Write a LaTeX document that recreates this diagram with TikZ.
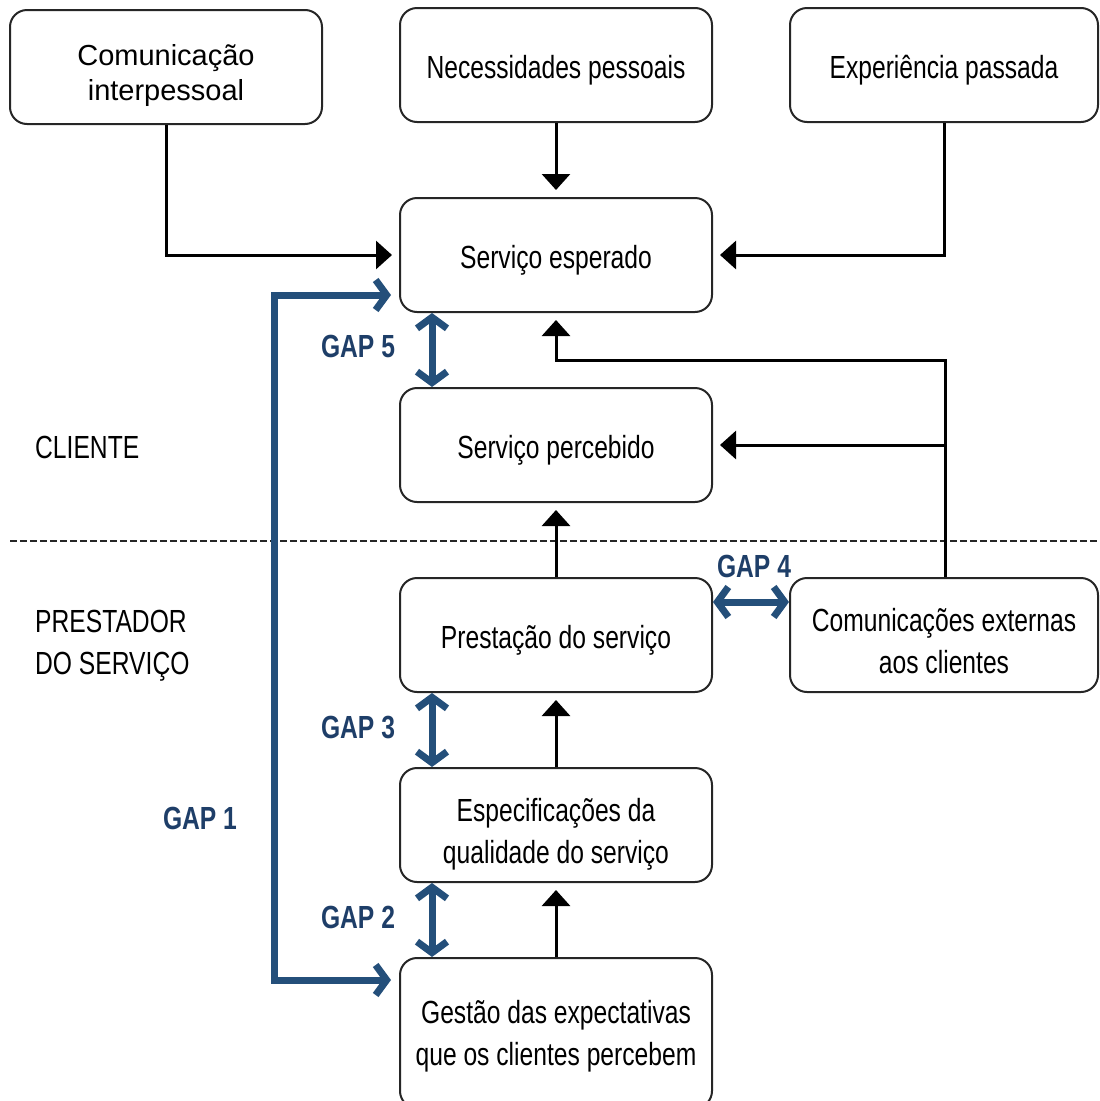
\documentclass[tikz,border=0pt]{standalone}
\usepackage{fontspec}
\setmainfont{Liberation Sans}
\newfontfamily\narrowfont[FakeStretch=0.77]{Liberation Sans}
\usetikzlibrary{arrows.meta}
\definecolor{gapblue}{RGB}{36,79,122}
\definecolor{gaptext}{RGB}{30,62,104}
\tikzset{
  box/.style={draw=black!85, line width=2pt, rounded corners=17pt, fill=white,
    minimum width=312pt, minimum height=114pt, inner sep=0pt},
  boxtext/.style={align=center, inner sep=0pt, yshift=-5pt,
    font=\narrowfont\fontsize{32}{42}\selectfont},
  flow/.style={line width=3pt, -{Triangle[length=16pt,width=28pt]}, shorten >=7pt},
  gap/.style={draw=gapblue, line width=7pt,
    {Straight Barb[length=11pt,width=30pt]}-{Straight Barb[length=11pt,width=30pt]}},
  gapone/.style={gap, shorten >=8pt, shorten <=8pt},
  gaplabel/.style={text=gaptext, font=\narrowfont\bfseries\fontsize{32}{36}\selectfont, inner sep=0pt},
  side/.style={anchor=west, align=left, inner sep=0pt, font=\narrowfont\fontsize{32}{42}\selectfont}
}
\begin{document}
\begin{tikzpicture}[x=1pt,y=-1pt]
\useasboundingbox (0,0) rectangle (1100,1101);

% top row: influences on the expected service
\node[box, label={[boxtext, yshift=-3pt, font=\fontsize{29}{35}\selectfont]center:Comunicação\\interpessoal}] (ci) at (166,67) {};
\node[box, label={[boxtext]center:Necessidades pessoais}] (np) at (556,65) {};
\node[box, minimum width=308pt, label={[boxtext]center:Experiência passada}] (ep) at (944,65) {};

% client side
\node[box, label={[boxtext]center:Serviço esperado}] (se) at (556,255) {};
\node[box, label={[boxtext]center:Serviço percebido}] (sp) at (556,445) {};

% provider side
\node[box, label={[boxtext]center:Prestação do serviço}] (ps) at (556,635) {};
\node[box, minimum width=308pt, label={[boxtext, yshift=-1pt]center:Comunicações externas\\aos clientes}] (ce) at (944,635) {};
\node[box, label={[boxtext, yshift=-4pt]center:Especificações da\\qualidade do serviço}] (eq) at (556,825) {};
\node[box, minimum height=150pt, label={[boxtext, yshift=2pt]center:Gestão das expectativas\\que os clientes percebem}] (ge) at (556,1033) {};

% client / provider boundary
\draw[black!85, line width=2pt, dash pattern=on 7pt off 3pt] (10,541) -- (1100,541);
\node[side] (cli) at (35,447) {CLIENTE};
\node[side] (prest) at (35,646) {PRESTADOR\\DO SERVIÇO};

% flow connectors
\draw[flow] (ci.south) |- (se.west);
\draw[flow] (np.south) -- (se.north);
\draw[flow] (ep.south) |- (se.east);
\coordinate (k1) at (945,360);
\coordinate (k2) at (945,445);
\draw[flow] (ce.north -| k1) -- (k1) -| (se.south);
\draw[flow] (k2) -- (sp.east);
\draw[flow] (ps.north) -- (sp.south);
\draw[flow] (eq.north) -- (ps.south);
\draw[flow] (ge.north) -- (eq.south);

% gaps
\draw[gapone] ([yshift=-40pt]se.west) -- ++(-125,0) |- ([yshift=53pt]ge.west);
\draw[gap] ([xshift=-124pt]se.south) -- ([xshift=-124pt]sp.north);
\draw[gap] ([yshift=33pt]ps.east) -- ([yshift=33pt]ce.west);
\draw[gap] ([xshift=-124pt]ps.south) -- ([xshift=-124pt]eq.north);
\draw[gap] ([xshift=-124pt]eq.south) -- ([xshift=-124pt]ge.north);

\node[gaplabel] (g5) at (358,346) {GAP 5};
\node[gaplabel] (g4) at (754,566) {GAP 4};
\node[gaplabel] (g3) at (358,727) {GAP 3};
\node[gaplabel] (g2) at (358,917) {GAP 2};
\node[gaplabel] (g1) at (200,818) {GAP 1};
\end{tikzpicture}
\end{document}
